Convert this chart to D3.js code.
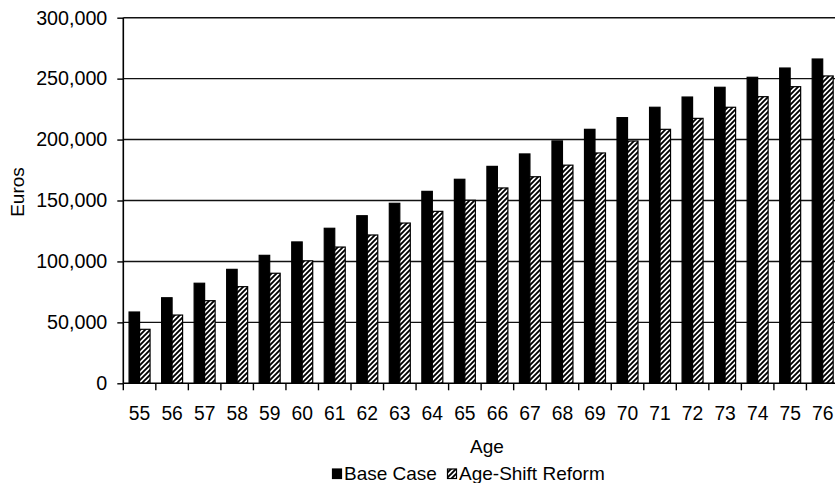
<!DOCTYPE html>
<html>
<head>
<meta charset="utf-8">
<script src="https://cdn.jsdelivr.net/npm/d3@7/dist/d3.min.js"></script>
<style>
  html, body { margin: 0; padding: 0; background: #fff; }
  svg { display: block; }
  text { font-family: "Liberation Sans", Arial, Helvetica, sans-serif; fill: #000; }
</style>
</head>
<body>
<svg id="chart" width="835" height="483"></svg>
<script>
const ages = ["55","56","57","58","59","60","61","62","63","64","65","66","67","68","69","70","71","72","73","74","75","76"];
const seriesNames = ["Base Case", "Age-Shift Reform"];
const baseCase = [58500, 70200, 82100, 93500, 105000, 116000, 127200, 137500, 147700, 157500, 167400, 178000, 188200, 198900, 208400, 218000, 226500, 234900, 242900, 251100, 258700, 266100];
const ageShift = [44300, 56000, 67800, 79300, 90300, 100500, 111800, 121700, 131500, 141100, 150200, 160300, 169500, 179000, 189000, 198800, 208400, 217400, 226500, 235200, 243400, 252200];
const yTicks = [0, 50000, 100000, 150000, 200000, 250000, 300000];
const yLabel = "Euros";
const xLabel = "Age";

(function () {
const svg = d3.select("#chart");
const pLeft = 123.3, pTop = 17.7, pBottom = 383.3, step = 32.53;
const pRight = pLeft + step * ages.length;

// hatch pattern
const defs = svg.append("defs");
const pat = defs.append("pattern").attr("id", "hatch")
  .attr("patternUnits", "userSpaceOnUse").attr("width", 5).attr("height", 5);
pat.append("rect").attr("width", 5).attr("height", 5).attr("fill", "#fff");
pat.append("path").attr("d", "M-1,1 l2,-2 M0,5 l5,-5 M4,6 l2,-2")
  .attr("stroke", "#000").attr("stroke-width", 1.9);

const y = d3.scaleLinear().domain([0, 300000]).range([pBottom, pTop]);
const x0 = d3.scaleBand().domain(ages).range([pLeft, pRight]).padding(0);
const x1 = d3.scaleBand().domain(seriesNames).range([0, x0.bandwidth()])
  .paddingInner(0).paddingOuter(0.55);

// gridlines
svg.append("g").selectAll("line").data(yTicks.filter(d => d > 0)).join("line")
  .attr("x1", pLeft).attr("x2", 835)
  .attr("y1", d => y(d)).attr("y2", d => y(d))
  .attr("stroke", "#111").attr("stroke-width", 1.4);

// bars
const rows = ages.map((a, i) => ({ age: a, vals: [baseCase[i], ageShift[i]] }));
const g = svg.append("g");
rows.forEach(r => {
  seriesNames.forEach((s, j) => {
    g.append("rect")
      .attr("x", x0(r.age) + x1(s))
      .attr("y", y(r.vals[j]))
      .attr("width", x1.bandwidth())
      .attr("height", pBottom - y(r.vals[j]))
      .attr("fill", j === 0 ? "#000" : "url(#hatch)")
      .attr("stroke", "#000").attr("stroke-width", 1.2);
  });
});

// y axis
const yAxis = d3.axisLeft(y).tickValues(yTicks).tickSize(6).tickPadding(10)
  .tickFormat(d3.format(","));
const ya = svg.append("g").attr("transform", `translate(${pLeft},0)`).call(yAxis);
ya.select(".domain").attr("stroke", "#000").attr("stroke-width", 1.6).attr("d", `M0,${pTop}V${pBottom}`);
ya.selectAll(".tick line").attr("stroke", "#000").attr("stroke-width", 1.4);
ya.selectAll("text").style("font-size", "19.7px").style("font-family", "Liberation Sans, Arial, sans-serif").attr("fill", "#000");

// x axis
const xAxis = d3.axisBottom(x0).tickSize(0).tickPadding(0);
const xa = svg.append("g").attr("transform", `translate(0,${pBottom})`).call(xAxis);
xa.select(".domain").attr("stroke", "#000").attr("stroke-width", 1.6).attr("d", `M${pLeft},0H835`);
xa.selectAll("text").attr("y", 37).attr("dy", 0)
  .style("font-size", "19.3px").style("font-family", "Liberation Sans, Arial, sans-serif").attr("fill", "#000");
// boundary ticks
xa.append("g").selectAll("line").data(ages.concat(["end"])).join("line")
  .attr("x1", (d, i) => pLeft + i * x0.step()).attr("x2", (d, i) => pLeft + i * x0.step())
  .attr("y1", 0).attr("y2", 7).attr("stroke", "#000").attr("stroke-width", 1.4);

// axis titles
svg.append("text").attr("transform", "translate(24,192) rotate(-90)")
  .attr("text-anchor", "middle").style("font-size", "19px").text(yLabel);
svg.append("text").attr("x", 487).attr("y", 453)
  .attr("text-anchor", "middle").style("font-size", "19px").text(xLabel);

// legend
const leg = svg.append("g");
const legItems = [{ name: seriesNames[0], x: 332.5, fill: "#000" }, { name: seriesNames[1], x: 447.5, fill: "url(#hatch)" }];
legItems.forEach(it => {
  leg.append("rect").attr("x", it.x).attr("y", 469).attr("width", 9).attr("height", 9.5)
    .attr("fill", it.fill).attr("stroke", "#000").attr("stroke-width", 1.2);
  leg.append("text").attr("x", it.x + 11.5).attr("y", 479.5).style("font-size", "19px").text(it.name);
});
})();
</script>
</body>
</html>
